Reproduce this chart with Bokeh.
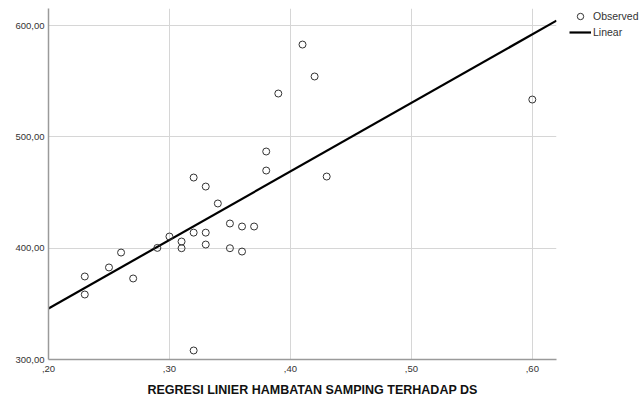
from bokeh.plotting import figure
from bokeh.models import (ColumnDataSource, Range1d, FixedTicker, Legend, LegendItem, Title)
from bokeh.layouts import row
from bokeh.embed import file_html
from bokeh.resources import INLINE

# Observed data (hambatan samping vs DS)
obs_x = [0.23, 0.23, 0.25, 0.26, 0.27, 0.29, 0.30, 0.31, 0.31, 0.32,
         0.32, 0.32, 0.33, 0.33, 0.33, 0.34, 0.35, 0.35, 0.36, 0.36,
         0.37, 0.38, 0.38, 0.39, 0.41, 0.42, 0.43, 0.60]
obs_y = [374.6, 358.4, 382.7, 396.1, 372.8, 400.3, 410.5, 406.0, 400.0, 414.0,
         463.5, 308.1, 414.0, 403.3, 455.4, 440.2, 422.2, 400.0, 419.5, 397.0,
         419.5, 486.9, 469.8, 539.0, 583.0, 554.3, 464.4, 533.6]

# Linear fit line (endpoints)
fit_x = [0.20, 0.62]
fit_y = [345.8, 604.5]

x_ticks = [0.2, 0.3, 0.4, 0.5, 0.6]
x_labels = [",20", ",30", ",40", ",50", ",60"]
y_ticks = [300, 400, 500, 600]
y_labels = ["300,00", "400,00", "500,00", "600,00"]

legend_labels = ["Observed", "Linear"]
title_text = "REGRESI LINIER HAMBATAN SAMPING TERHADAP DS"
FONT = "Liberation Sans"

p = figure(width=569, height=403, output_backend="svg", toolbar_location=None,
           x_range=Range1d(0.2, 0.62), y_range=Range1d(300, 615.4),
           min_border_left=48, min_border_right=13, min_border_top=8,
           min_border_bottom=44)
p.outline_line_color = None
p.background_fill_color = "white"
p.border_fill_color = "white"

for ax in (p.xaxis[0], p.yaxis[0]):
    ax.axis_line_color = "#9a9a9a"
    ax.axis_line_width = 1.5
    ax.major_tick_out = 0
    ax.major_tick_in = 0
    ax.minor_tick_out = 0
    ax.minor_tick_in = 0
    ax.major_label_text_font = FONT
    ax.major_label_text_font_size = "9.5px"
    ax.major_label_text_color = "#333333"

p.xaxis[0].ticker = FixedTicker(ticks=x_ticks)
p.xaxis[0].major_label_overrides = {t: l for t, l in zip(x_ticks, x_labels)}
p.xaxis[0].major_label_standoff = 6
p.yaxis[0].ticker = FixedTicker(ticks=y_ticks)
p.yaxis[0].major_label_overrides = {t: l for t, l in zip(y_ticks, y_labels)}
p.yaxis[0].major_label_standoff = 4

p.xgrid.grid_line_color = "#d6d6d6"
p.ygrid.grid_line_color = "#d6d6d6"
p.xgrid.ticker = FixedTicker(ticks=x_ticks)
p.ygrid.ticker = FixedTicker(ticks=y_ticks)

LINE_STYLE = dict(line_color="black", line_width=2.2)
PT_STYLE = dict(marker="circle", size=7, fill_color=None, line_color="#333333", line_width=1)

p.line(fit_x, fit_y, **LINE_STYLE)
src = ColumnDataSource(dict(x=obs_x, y=obs_y))
p.scatter("x", "y", source=src, **PT_STYLE)

t = Title(text=title_text, align="left", offset=99, text_font=FONT,
          text_font_size="12.5px", text_font_style="bold", text_color="#111111",
          standoff=12)
p.add_layout(t, "below")

# legend panel to the right of the chart; its renderers reuse the same data,
# but its view range lies outside the data so only the legend is seen
lg = figure(width=70, height=403, output_backend="svg", toolbar_location=None,
            x_axis_type=None, y_axis_type=None,
            x_range=Range1d(0, 1), y_range=Range1d(0, 1),
            min_border_left=0, min_border_right=0, min_border_top=7,
            min_border_bottom=0)
lg.outline_line_color = None
lg.border_fill_color = "white"
lg.background_fill_color = "white"
lg_pts = lg.scatter("x", "y", source=src, **PT_STYLE)
lg_line = lg.line(fit_x, fit_y, **LINE_STYLE)

legend = Legend(items=[LegendItem(label=legend_labels[0], renderers=[lg_pts]),
                       LegendItem(label=legend_labels[1], renderers=[lg_line])],
                location="top_left", orientation="vertical",
                padding=0, margin=0, spacing=0,
                glyph_width=22, glyph_height=16, label_height=16,
                label_standoff=2, label_text_font=FONT,
                label_text_font_size="10.5px", label_text_color="#333333",
                border_line_color=None, background_fill_alpha=0)
lg.add_layout(legend, "center")

layout = row(p, lg, spacing=0)
open("out.html", "w").write(file_html(layout, INLINE))
